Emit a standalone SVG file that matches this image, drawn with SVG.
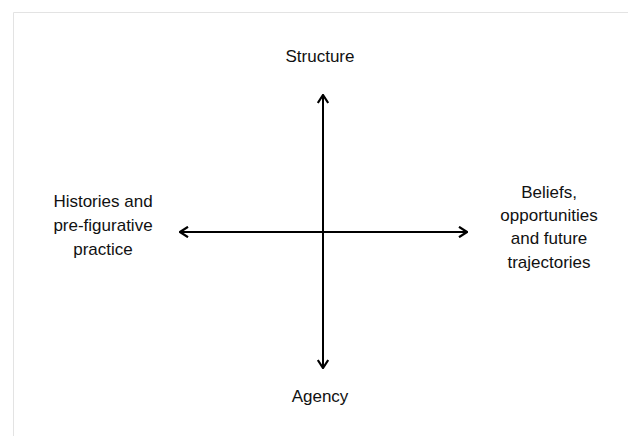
<svg xmlns="http://www.w3.org/2000/svg" width="628" height="436" viewBox="0 0 628 436">
  <style>
    .lbl { font-family: "Liberation Sans", Arial, sans-serif; font-size: 17px; fill: #111; text-anchor: middle; }
    .axis { stroke: #000; stroke-width: 2; fill: none; }
  </style>
  <defs>
    <!-- open chevron head, reused for both ends of each axis -->
    <marker id="head" viewBox="0 0 10 12" refX="9" refY="6" markerWidth="10" markerHeight="12" markerUnits="userSpaceOnUse" orient="auto-start-reverse">
      <path d="M1,0.8 L9,6 L1,11.2" fill="none" stroke="#000" stroke-width="2.2"/>
    </marker>
  </defs>
  <rect width="628" height="436" fill="#fff"/>
  <path d="M13.5,436 V12.5 H628" fill="none" stroke="#e3e3e3" stroke-width="1"/>

  <g id="connectors">
    <line class="axis" x1="323" y1="368" x2="323" y2="95" marker-start="url(#head)" marker-end="url(#head)"/>
    <line class="axis" x1="180" y1="232" x2="467" y2="232" marker-start="url(#head)" marker-end="url(#head)"/>
  </g>

  <g id="structure">
    <text class="lbl" x="320" y="62">Structure</text>
  </g>
  <g id="agency">
    <text class="lbl" x="320" y="402">Agency</text>
  </g>
  <g id="histories">
    <text class="lbl" x="103" y="207">Histories and</text>
    <text class="lbl" x="103" y="231">pre-figurative</text>
    <text class="lbl" x="103" y="255">practice</text>
  </g>
  <g id="beliefs">
    <text class="lbl" x="549" y="198">Beliefs,</text>
    <text class="lbl" x="549" y="221">opportunities</text>
    <text class="lbl" x="549" y="244">and future</text>
    <text class="lbl" x="549" y="268">trajectories</text>
  </g>
</svg>
